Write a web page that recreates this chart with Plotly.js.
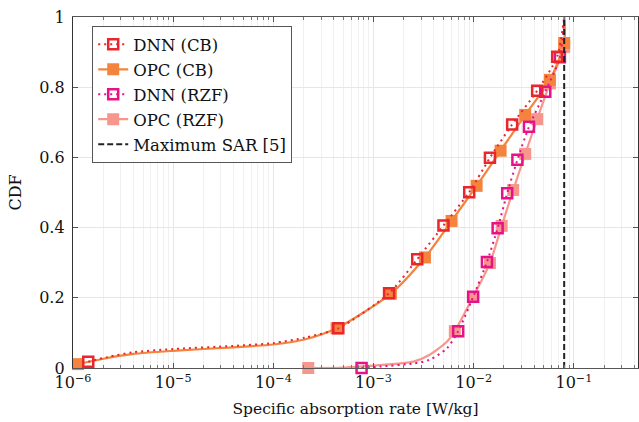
<!DOCTYPE html>
<html>
<head>
<meta charset="utf-8">
<script src="https://cdn.plot.ly/plotly-3.0.1.min.js"></script>
<style>
html,body{margin:0;padding:0;background:#fff;}
#chart{width:639px;height:422px;}
</style>
</head>
<body>
<div id="chart"></div>
<script>
// ---- Data ----
const dnnCbX  = [1.42e-6, 4.45e-4, 1.43e-3, 2.73e-3, 4.99e-3, 9.02e-3, 0.01452, 0.0242, 0.0430, 0.0681];
const dnnCbY  = [0.018, 0.113, 0.213, 0.310, 0.406, 0.501, 0.599, 0.694, 0.790, 0.887];
const opcCbX  = [1.12e-6, 4.28e-4, 1.49e-3, 3.26e-3, 6.01e-3, 0.01069, 0.01855, 0.03266, 0.0576, 0.0800];
const opcCbY  = [0.011, 0.113, 0.212, 0.315, 0.419, 0.519, 0.619, 0.721, 0.821, 0.926];
const dnnRzfX = [7.6e-4, 7.0e-3, 9.88e-3, 0.01355, 0.01733, 0.02160, 0.0273, 0.0356, 0.0518, 0.0725];
const dnnRzfY = [0.0, 0.105, 0.203, 0.302, 0.398, 0.498, 0.593, 0.687, 0.787, 0.885];
const opcRzfX = [2.23e-4, 6.48e-3, 9.82e-3, 0.01452, 0.01901, 0.02479, 0.0327, 0.0430, 0.0576, 0.0800];
const opcRzfY = [0.0, 0.105, 0.202, 0.299, 0.405, 0.507, 0.610, 0.709, 0.811, 0.915];

const dnnCbLineX  = [1.42e-6, 2.2e-6, 4.0e-6, 1.0e-5, 4.0e-5, 1.0e-4, 2.1e-4, 4.45e-4, 1.43e-3, 2.73e-3, 4.99e-3, 9.02e-3, 0.01452, 0.0242, 0.0430, 0.0681, 0.080];
const dnnCbLineY  = [0.018, 0.031, 0.045, 0.054, 0.063, 0.071, 0.087, 0.113, 0.213, 0.310, 0.406, 0.501, 0.599, 0.694, 0.790, 0.887, 1.0];
const opcCbLineX  = [1.0e-6, 1.12e-6, 1.9e-6, 4.0e-6, 1.0e-5, 4.0e-5, 1.0e-4, 2.1e-4, 4.28e-4, 1.49e-3, 3.26e-3, 6.01e-3, 0.01069, 0.01855, 0.03266, 0.0576, 0.0800, 0.080];
const opcCbLineY  = [0.009, 0.011, 0.025, 0.040, 0.049, 0.059, 0.067, 0.082, 0.113, 0.212, 0.315, 0.419, 0.519, 0.619, 0.721, 0.821, 0.926, 1.0];
const dnnRzfLineX = [7.6e-4, 1.15e-3, 2.5e-3, 3.6e-3, 5.4e-3, 7.0e-3, 9.88e-3, 0.01355, 0.01733, 0.02160, 0.0273, 0.0356, 0.0518, 0.0725, 0.080];
const dnnRzfLineY = [0.0, 0.004, 0.013, 0.023, 0.056, 0.105, 0.203, 0.302, 0.398, 0.498, 0.593, 0.687, 0.787, 0.885, 1.0];
const opcRzfLineX = [2.23e-4, 5.0e-4, 1.15e-3, 2.5e-3, 3.6e-3, 5.4e-3, 6.48e-3, 9.82e-3, 0.01452, 0.01901, 0.02479, 0.0327, 0.0430, 0.0576, 0.0800, 0.080];
const opcRzfLineY = [0.0, 0.001, 0.008, 0.018, 0.037, 0.075, 0.105, 0.202, 0.299, 0.405, 0.507, 0.610, 0.709, 0.811, 0.915, 1.0];

const sarMaxX = [0.08, 0.08];
const sarMaxY = [0, 1];

const seriesNames = ['DNN (CB)', 'OPC (CB)', 'DNN (RZF)', 'OPC (RZF)', 'Maximum SAR [5]'];
const xTickVals = [1e-6, 1e-5, 1e-4, 1e-3, 1e-2, 1e-1];
const xTickText = ['10<sup>\u22126</sup>', '10<sup>\u22125</sup>', '10<sup>\u22124</sup>', '10<sup>\u22123</sup>', '10<sup>\u22122</sup>', '10<sup>\u22121</sup>'];
const yTickVals = [0, 0.2, 0.4, 0.6, 0.8, 1];
const yTickText = ['0', '0.2', '0.4', '0.6', '0.8', '1'];

// ---- Styles ----
const C = {dnnCb: '#E8262C', opcCb: '#F4843D', dnnRzf: '#E6128A', opcRzf: '#F7968C'};
const dotDash = '2px,4px';
const dnnMarker = c => ({symbol: 'square-open', size: 10, color: c, line: {color: c, width: 2.5}});
const opcMarker = c => ({symbol: 'square', size: 12, color: c, line: {width: 0}});

const traces = [];
function lineTrace(x, y, color, dash, width, grp) {
  return {x, y, type: 'scatter', mode: 'lines', showlegend: false, legendgroup: grp,
    line: {color, width, dash, shape: 'spline', smoothing: 0.7}, hoverinfo: 'skip'};
}
function markTrace(x, y, marker, grp) {
  return {x, y, type: 'scatter', mode: 'markers', showlegend: false, legendgroup: grp, marker, cliponaxis: false};
}
traces.push(lineTrace(opcRzfLineX, opcRzfLineY, C.opcRzf, 'solid', 2.2, 'g4'));
traces.push(lineTrace(opcCbLineX, opcCbLineY, C.opcCb, 'solid', 2.2, 'g2'));
traces.push(markTrace(opcRzfX, opcRzfY, opcMarker(C.opcRzf), 'g4'));
traces.push(markTrace(opcCbX, opcCbY, opcMarker(C.opcCb), 'g2'));
traces.push(lineTrace(dnnRzfLineX, dnnRzfLineY, C.dnnRzf, dotDash, 2, 'g3'));
traces.push(lineTrace(dnnCbLineX, dnnCbLineY, C.dnnCb, dotDash, 2, 'g1'));
traces.push(markTrace(dnnRzfX, dnnRzfY, dnnMarker(C.dnnRzf), 'g3'));
traces.push(markTrace(dnnCbX, dnnCbY, dnnMarker(C.dnnCb), 'g1'));
traces.push({x: sarMaxX, y: sarMaxY, type: 'scatter', mode: 'lines', showlegend: false, legendgroup: 'g5',
  line: {color: '#222', width: 2, dash: '6px,3px'}});

traces.push({x: [null], y: [null], type: 'scatter', mode: 'lines+markers', name: seriesNames[0], legendgroup: 'g1',
  line: {color: C.dnnCb, width: 2, dash: dotDash}, marker: dnnMarker(C.dnnCb)});
traces.push({x: [null], y: [null], type: 'scatter', mode: 'lines+markers', name: seriesNames[1], legendgroup: 'g2',
  line: {color: C.opcCb, width: 2.2}, marker: opcMarker(C.opcCb)});
traces.push({x: [null], y: [null], type: 'scatter', mode: 'lines+markers', name: seriesNames[2], legendgroup: 'g3',
  line: {color: C.dnnRzf, width: 2, dash: dotDash}, marker: dnnMarker(C.dnnRzf)});
traces.push({x: [null], y: [null], type: 'scatter', mode: 'lines+markers', name: seriesNames[3], legendgroup: 'g4',
  line: {color: C.opcRzf, width: 2.2}, marker: opcMarker(C.opcRzf)});
traces.push({x: [null], y: [null], type: 'scatter', mode: 'lines', name: seriesNames[4], legendgroup: 'g5',
  line: {color: '#222', width: 2, dash: '6px,3px'}});

const fam = 'DejaVu Serif';
const mk = s => ({family: fam, size: s, color: '#111'});

const layout = {
  width: 639, height: 422,
  margin: {l: 73, r: 1, t: 17, b: 54, pad: 0},
  paper_bgcolor: '#fff', plot_bgcolor: '#fff',
  font: mk(16),
  showlegend: true,
  legend: {
    x: 0.034, y: 0.974, xanchor: 'left', yanchor: 'top',
    bgcolor: '#fff', bordercolor: '#555', borderwidth: 1,
    font: mk(16.5),
    traceorder: 'grouped', tracegroupgap: 0.5, itemwidth: 30
  },
  xaxis: {
    type: 'log', range: [-6, -0.36],
    tickvals: xTickVals, ticktext: xTickText,
    ticks: 'inside', ticklen: 5, tickcolor: '#555', tickwidth: 1,
    showline: true, linecolor: '#555', linewidth: 1.2, mirror: 'allticks',
    showgrid: true, gridcolor: '#e6e6e6', gridwidth: 1,
    minor: {dtick: 'D1', ticks: 'inside', ticklen: 3, tickcolor: '#777', showgrid: true, gridcolor: '#f0f0f0', gridwidth: 1},
    zeroline: false,
    title: {text: 'Specific absorption rate [W/kg]', font: mk(15.5), standoff: 11},
    tickfont: mk(16)
  },
  yaxis: {
    range: [0, 1], tickvals: yTickVals, ticktext: yTickText,
    ticks: 'inside', ticklen: 5, tickcolor: '#555',
    showline: true, linecolor: '#333', linewidth: 1.2, mirror: 'allticks',
    showgrid: true, gridcolor: '#e6e6e6', zeroline: false,
    ticklabelstandoff: 4,
    title: {text: 'CDF', font: mk(16), standoff: 13},
    tickfont: mk(16)
  }
};

Plotly.newPlot('chart', traces, layout, {staticPlot: true, displayModeBar: false});
</script>
</body>
</html>
